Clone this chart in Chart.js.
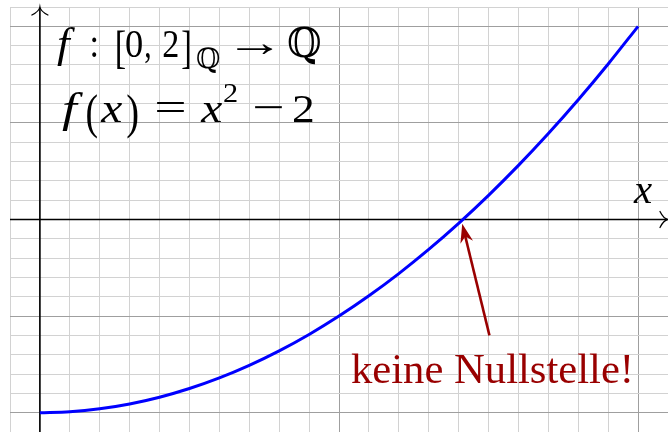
<!DOCTYPE html>
<html>
<head>
<meta charset="utf-8">
<script src="https://cdn.jsdelivr.net/npm/chart.js@4/dist/chart.umd.min.js"></script>
<style>
  html, body { margin: 0; padding: 0; background: #ffffff; }
  canvas { display: block; }
</style>
</head>
<body>
<canvas id="plot" width="668" height="432"></canvas>
<script>
// Sample points of f(x) = x^2 - 2 on [0, 2]
const xValues = [0, 0.1, 0.2, 0.3, 0.4, 0.5, 0.6, 0.7, 0.8, 0.9, 1.0,
                 1.1, 1.2, 1.3, 1.4, 1.5, 1.6, 1.7, 1.8, 1.9, 2.0];
const yValues = [-2, -1.99, -1.96, -1.91, -1.84, -1.75, -1.64, -1.51, -1.36, -1.19, -1,
                 -0.79, -0.56, -0.31, -0.04, 0.25, 0.56, 0.89, 1.24, 1.61, 2];

// Window of the grid
const xRange = [-0.1, 2.1];
const yRange = [-2.2, 2.2];
const xGridStep = 0.1;
const yGridStep = 0.2;

// Annotation arrow (data coordinates): tail -> tip near sqrt(2)
const arrowTail = [1.503, -1.2];
const arrowTip = [1.412, -0.045];
const annotationText = 'keine Nullstelle!';
const axisLabel = 'x';

const MINOR = '#d2d2d2';
const MAJOR = '#9f9f9f';
const DARKRED = '#990000';
const SERIF = '"Liberation Serif", "DejaVu Serif", serif';

const isWhole = v => Math.abs(v - Math.round(v)) < 1e-6;

function gridColor(ctx) {
  return ctx.tick && isWhole(ctx.tick.value) ? MAJOR : MINOR;
}

// Draw a piece of text so that its ink spans [x1, x2] horizontally
function fitText(ctx, text, x1, x2, baseline, size, italic, color) {
  ctx.save();
  ctx.font = (italic ? 'italic ' : '') + size + 'px ' + SERIF;
  ctx.fillStyle = color || '#000';
  ctx.textBaseline = 'alphabetic';
  ctx.textAlign = 'left';
  const m = ctx.measureText(text);
  const inkL = -m.actualBoundingBoxLeft;
  const inkW = m.actualBoundingBoxRight + m.actualBoundingBoxLeft;
  const s = inkW > 0 ? (x2 - x1) / inkW : 1;
  ctx.translate(x1, baseline);
  ctx.scale(s, 1);
  ctx.fillText(text, -inkL, 0);
  ctx.restore();
}

// Computer-Modern style open arrow tip
function openTip(ctx, tx, ty, dx, dy, back, side) {
  const px = -dy, py = dx;
  ctx.beginPath();
  ctx.moveTo(tx - back * dx + side * px, ty - back * dy + side * py);
  ctx.quadraticCurveTo(tx - back * 0.55 * dx + side * 0.1 * px, ty - back * 0.55 * dy + side * 0.1 * py, tx, ty);
  ctx.quadraticCurveTo(tx - back * 0.55 * dx - side * 0.1 * px, ty - back * 0.55 * dy - side * 0.1 * py,
                       tx - back * dx - side * px, ty - back * dy - side * py);
  ctx.stroke();
}

const axesPlugin = {
  id: 'axesPlugin',
  beforeDatasetsDraw(chart) {
    const { ctx, scales: { x, y } } = chart;
    const x0 = x.getPixelForValue(0);
    const y0 = y.getPixelForValue(0);
    const xl = x.getPixelForValue(xRange[0]);
    const xr = x.getPixelForValue(xRange[1]);
    const yb = y.getPixelForValue(yRange[0]);
    const yt = y.getPixelForValue(yRange[1]);
    ctx.save();
    ctx.strokeStyle = '#000';
    ctx.lineWidth = 1.6;
    ctx.lineCap = 'butt';
    ctx.beginPath();
    ctx.moveTo(xl, y0); ctx.lineTo(xr - 1, y0);
    ctx.moveTo(x0, yb); ctx.lineTo(x0, yt + 1);
    ctx.stroke();
    ctx.lineWidth = 1.3;
    ctx.lineCap = 'round';
    openTip(ctx, xr, y0, 1, 0, 8, 8);
    openTip(ctx, x0, yt, 0, -1, 8, 8);
    ctx.restore();
  },
  afterDatasetsDraw(chart) {
    const { ctx, scales: { x, y } } = chart;
    // red annotation arrow
    const tx = x.getPixelForValue(arrowTip[0]), ty = y.getPixelForValue(arrowTip[1]);
    const sx = x.getPixelForValue(arrowTail[0]), sy = y.getPixelForValue(arrowTail[1]);
    const len = Math.hypot(tx - sx, ty - sy);
    const dx = (tx - sx) / len, dy = (ty - sy) / len;
    const px = -dy, py = dx;
    ctx.save();
    ctx.strokeStyle = DARKRED;
    ctx.fillStyle = DARKRED;
    ctx.lineWidth = 2.6;
    ctx.beginPath();
    ctx.moveTo(sx, sy);
    ctx.lineTo(tx - 12 * dx, ty - 12 * dy);
    ctx.stroke();
    ctx.beginPath();
    ctx.moveTo(tx, ty);
    ctx.lineTo(tx - 19 * dx + 6.5 * px, ty - 19 * dy + 6.5 * py);
    ctx.lineTo(tx - 13 * dx, ty - 13 * dy);
    ctx.lineTo(tx - 19 * dx - 6.5 * px, ty - 19 * dy - 6.5 * py);
    ctx.closePath();
    ctx.fill();
    ctx.restore();

    // annotation label
    fitText(ctx, annotationText, 351, 630, 383, 42, false, DARKRED);

    // axis label
    fitText(ctx, axisLabel, 633, 652, 203, 41, true);

    // formula block
    const L1 = 57, L2 = 122, S = 41, s = 28;
    fitText(ctx, 'f', 57, 75, L1, S + 2, true);
    fitText(ctx, ':', 92, 97, L1, S, false);
    fitText(ctx, '[', 117, 125, L1 + 6, 47, false);
    fitText(ctx, '0', 126, 142, L1, S, false);
    fitText(ctx, ',', 145, 150, L1, S, false);
    fitText(ctx, '2', 163, 178, L1, S, false);
    fitText(ctx, ']', 182, 190, L1 + 6, 47, false);
    fitText(ctx, '\u211A', 197, 220, 68, s, false);
    fitText(ctx, '\u2192', 237, 273, L1 - 1, S, false);
    fitText(ctx, '\u211A', 288, 320, L1, S, false);

    fitText(ctx, 'f', 62, 83, L2, S + 2, true);
    fitText(ctx, '(', 87, 97, L2 + 6, 49, false);
    fitText(ctx, 'x', 100, 122, L2, S, true);
    fitText(ctx, ')', 127, 138, L2 + 6, 49, false);
    fitText(ctx, '=', 157, 185, L2 - 1, S, false);
    fitText(ctx, 'x', 200, 222, L2, S, true);
    fitText(ctx, '2', 224, 237, 102, s, false);
    fitText(ctx, '\u2212', 255, 283, L2 - 1, S, false);
    fitText(ctx, '2', 293, 313, L2, S, false);
  }
};

new Chart(document.getElementById('plot'), {
  type: 'line',
  data: {
    datasets: [{
      data: xValues.map((v, i) => ({ x: v, y: yValues[i] })),
      borderColor: '#0000ff',
      borderWidth: 3,
      pointRadius: 0,
      fill: false,
      cubicInterpolationMode: 'monotone'
    }]
  },
  options: {
    responsive: false,
    devicePixelRatio: 1,
    animation: false,
    events: [],
    layout: { padding: { left: 10, top: 7, right: -2, bottom: 0 } },
    plugins: { legend: { display: false }, tooltip: { enabled: false }, title: { display: false } },
    scales: {
      x: {
        type: 'linear',
        min: xRange[0], max: xRange[1],
        ticks: { display: false, stepSize: xGridStep },
        border: { display: false },
        grid: { color: gridColor, lineWidth: 1, drawTicks: false }
      },
      y: {
        type: 'linear',
        min: yRange[0], max: yRange[1],
        ticks: { display: false, stepSize: yGridStep },
        border: { display: false },
        grid: { color: gridColor, lineWidth: 1, drawTicks: false }
      }
    }
  },
  plugins: [axesPlugin]
});
</script>
</body>
</html>
